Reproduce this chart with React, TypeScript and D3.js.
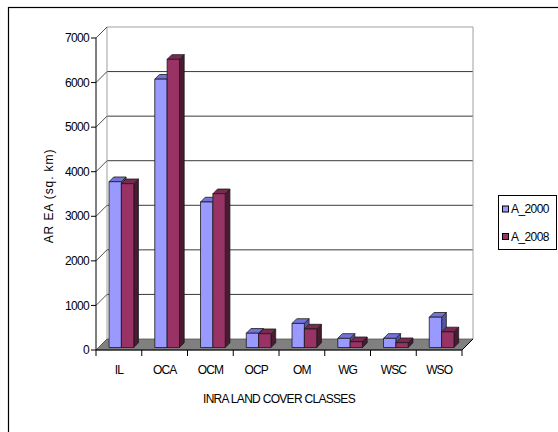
import React from "react";
import * as d3 from "d3";

// Land cover classes and areas (sq. km) for the two survey years
const categories = ["IL", "OCA", "OCM", "OCP", "OM", "WG", "WSC", "WSO"];
const seriesNames = ["A_2000", "A_2008"];
const area2000 = [3720, 6020, 3265, 320, 540, 205, 205, 680];
const area2008 = [3675, 6465, 3450, 310, 415, 130, 108, 350];
const yTicks = [0, 1000, 2000, 3000, 4000, 5000, 6000, 7000];

const seriesValues = [area2000, area2008];
const faceColors = [
  { front: "#9999FF", top: "#7373DA", side: "#5555A8" },
  { front: "#993366", top: "#7A2952", side: "#4A1932" },
];

const W = 558;
const H = 432;
const FONT = "'Liberation Sans', Arial, sans-serif";

// Front plane of the plot and depth of the 3D box
const X0 = 96;
const X1 = 462;
const Y0 = 350;
const YTOP = 38;
const DEPTH = 11;
// Bars sit slightly inside the box
const BAR_OFF = 2.5;
const BAR_DEPTH = 4.7;

export default function App() {
  const y = d3.scaleLinear().domain([0, 7000]).range([Y0, YTOP]);
  const x = d3.scaleBand<string>().domain(categories).range([X0, X1]).padding(0);
  const barW = x.bandwidth() * 0.27;
  const sub = d3
    .scaleBand<string>()
    .domain(seriesNames)
    .range([x.bandwidth() / 2 - barW, x.bandwidth() / 2 + barW])
    .padding(0);

  const floor = [
    [X0, Y0],
    [X1, Y0],
    [X1 + DEPTH, Y0 - DEPTH],
    [X0 + DEPTH, Y0 - DEPTH],
  ]
    .map((p) => p.join(","))
    .join(" ");

  const bars: React.ReactNode[] = [];
  categories.forEach((c, ci) => {
    seriesNames.forEach((s, si) => {
      const v = seriesValues[si][ci];
      const col = faceColors[si];
      const bx = (x(c) as number) + (sub(s) as number) + BAR_OFF;
      const yt = y(v) - BAR_OFF;
      const yb = y(0) - BAR_OFF;
      const w = sub.bandwidth();
      const d = BAR_DEPTH;
      const top = `${bx},${yt} ${bx + w},${yt} ${bx + w + d},${yt - d} ${bx + d},${yt - d}`;
      const side = `${bx + w},${yt} ${bx + w + d},${yt - d} ${bx + w + d},${yb - d} ${bx + w},${yb}`;
      bars.push(
        <g key={`${c}-${s}`} stroke="#1a1a1a" strokeWidth={0.8} strokeLinejoin="round">
          <polygon points={side} fill={col.side} />
          <polygon points={top} fill={col.top} />
          <rect x={bx} y={yt} width={w} height={yb - yt} fill={col.front} />
        </g>
      );
    });
  });

  return (
    <svg width={W} height={H} style={{ position: "absolute", left: 0, top: 0 }}>
      <rect x={0} y={0} width={W} height={H} fill="#fff" />
      {/* chart frame */}
      <rect x={8.5} y={7.5} width={700} height={600} fill="none" stroke="#000" strokeWidth={1.2} />

      {/* back wall gridlines */}
      {yTicks.slice(1, -1).map((t) => (
        <line
          key={`g${t}`}
          x1={X0 + DEPTH}
          x2={X1 + DEPTH}
          y1={y(t) - DEPTH}
          y2={y(t) - DEPTH}
          stroke="#3a3a3a"
          strokeWidth={1}
        />
      ))}
      <line x1={X0 + DEPTH} x2={X1 + DEPTH} y1={YTOP - DEPTH} y2={YTOP - DEPTH} stroke="#a0a0a0" />
      <line x1={X1 + DEPTH} x2={X1 + DEPTH} y1={YTOP - DEPTH} y2={Y0 - DEPTH} stroke="#a0a0a0" />
      <line x1={X0 + DEPTH} x2={X0 + DEPTH} y1={YTOP - DEPTH} y2={Y0 - DEPTH} stroke="#a0a0a0" />

      {/* side wall diagonals */}
      {yTicks.map((t) => (
        <line
          key={`s${t}`}
          x1={X0}
          y1={y(t)}
          x2={X0 + DEPTH}
          y2={y(t) - DEPTH}
          stroke="#3a3a3a"
          strokeWidth={0.9}
        />
      ))}

      {/* floor */}
      <polygon points={floor} fill="#808080" stroke="#555" strokeWidth={0.8} />

      {bars}

      {/* y axis */}
      <line x1={X0} x2={X0} y1={YTOP} y2={Y0} stroke="#000" />
      {yTicks.map((t) => (
        <g key={`yt${t}`}>
          <line x1={X0 - 5} x2={X0} y1={y(t)} y2={y(t)} stroke="#000" />
          <text
            x={X0 - 7}
            y={y(t)}
            dy="0.35em"
            textAnchor="end"
            fontFamily={FONT}
            fontSize={12}
            letterSpacing={-0.7}
            fill="#000"
          >
            {t}
          </text>
        </g>
      ))}

      {/* x axis */}
      <line x1={X0} x2={X1} y1={Y0} y2={Y0} stroke="#000" />
      <line x1={X1} x2={X1 + DEPTH} y1={Y0} y2={Y0 - DEPTH} stroke="#000" />
      {d3.range(categories.length + 1).map((i) => {
        const tx = X0 + i * x.bandwidth();
        return <line key={`xt${i}`} x1={tx} x2={tx} y1={Y0} y2={Y0 + 6} stroke="#000" />;
      })}
      {categories.map((c) => (
        <text
          key={`xl${c}`}
          x={(x(c) as number) + x.bandwidth() / 2}
          y={374}
          textAnchor="middle"
          fontFamily={FONT}
          fontSize={12}
          letterSpacing={-0.9}
          fill="#000"
        >
          {c}
        </text>
      ))}

      {/* axis titles */}
      <text
        x={279}
        y={403}
        textAnchor="middle"
        fontFamily={FONT}
        fontSize={12}
        letterSpacing={-0.7}
        fill="#000"
      >
        INRA LAND COVER CLASSES
      </text>
      <text
        transform="translate(53,196) rotate(-90)"
        textAnchor="middle"
        fontFamily={FONT}
        fontSize={12}
        letterSpacing={0.9}
        fill="#000"
      >
        AR EA (sq. km)
      </text>

      {/* legend */}
      <rect x={498.5} y={195.5} width={58} height={54} fill="#fff" stroke="#000" />
      {seriesNames.map((s, i) => (
        <g key={`lg${s}`}>
          <rect
            x={502.5}
            y={206 + i * 27.5}
            width={6}
            height={6}
            fill={faceColors[i].front}
            stroke="#000"
          />
          <text
            x={511}
            y={209 + i * 27.5}
            dy="0.35em"
            fontFamily={FONT}
            fontSize={12}
            letterSpacing={-0.6}
            fill="#000"
          >
            {s}
          </text>
        </g>
      ))}
    </svg>
  );
}
